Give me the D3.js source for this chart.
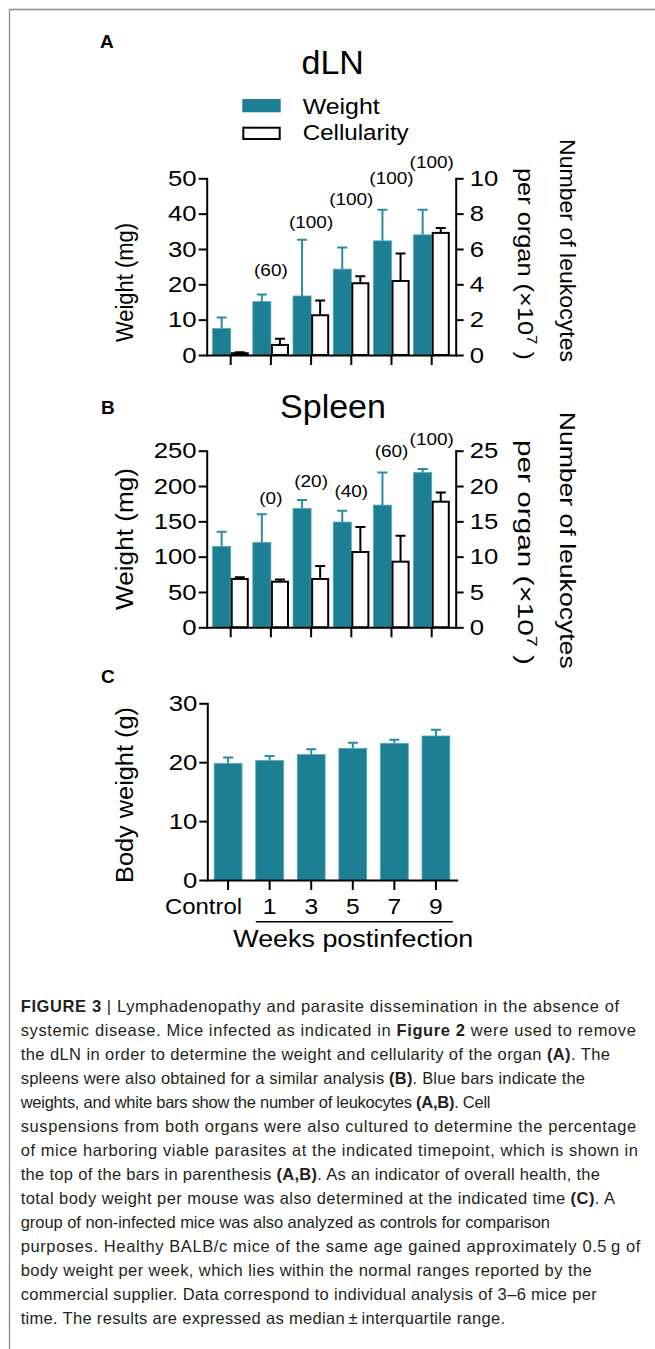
<!DOCTYPE html>
<html>
<head>
<meta charset="utf-8">
<script src="https://cdnjs.cloudflare.com/ajax/libs/d3/7.8.5/d3.min.js"></script>
<style>
body { margin: 0; background: #fff; }
svg { display: block; }
text { font-family: "Liberation Sans", Arial, Helvetica, sans-serif; white-space: pre; }
</style>
</head>
<body>
<script>
var width = 655;
var height = 1349;
var font = "'Liberation Sans', Arial, Helvetica, sans-serif";
var teal = "#1d7f93";
var tealErr = "#2a8da3";

var groups = ["Control", "1", "3", "5", "7", "9"];

// A: dLN
var dlnWeight = [7.5, 15.1, 16.7, 24.3, 32.3, 34.0];
var dlnWeightTop = [10.6, 17.1, 32.6, 30.4, 41.1, 41.1];
var dlnCells = [0.1, 0.57, 2.25, 4.06, 4.19, 6.91];
var dlnCellsTop = [0.15, 0.92, 3.09, 4.45, 5.74, 7.19];
var dlnPct = ["", "(60)", "(100)", "(100)", "(100)", "(100)"];
var dlnLeftTicks = [0, 10, 20, 30, 40, 50];
var dlnRightTicks = [0, 2, 4, 6, 8, 10];

// B: spleen
var splWeight = [114.6, 120.3, 168.4, 149, 173, 219];
var splWeightTop = [135.4, 159.9, 180.2, 165, 219, 224];
var splCells = [6.84, 6.46, 6.84, 10.66, 9.29, 17.78];
var splCellsTop = [7.08, 6.75, 8.68, 14.2, 12.97, 19.1];
var splPct = ["", "(0)", "(20)", "(40)", "(60)", "(100)"];
var splLeftTicks = [0, 50, 100, 150, 200, 250];
var splRightTicks = [0, 5, 10, 15, 20, 25];

// C: body weight
var bodyWeight = [19.8, 20.3, 21.3, 22.35, 23.2, 24.45];
var bodyWeightTop = [20.8, 21.05, 22.2, 23.3, 23.8, 25.5];
var bodyTicks = [0, 10, 20, 30];

// where the (%) labels sit, in left-axis units
var dlnPctAt = [0, 22.4, 35.9, 42.4, 48.4, 52.9];
var splPctAt = [0, 174.5, 198, 184, 240.6, 258];

var captionLines = [
  [["FIGURE 3", 1], [" | ", 0], ["Lymphadenopathy and parasite dissemination in the absence of", 0]],
  [["systemic disease. Mice infected as indicated in ", 0], ["Figure 2", 1], [" were used to remove", 0]],
  [["the dLN in order to determine the weight and cellularity of the organ ", 0], ["(A)", 1], [". The", 0]],
  [["spleens were also obtained for a similar analysis ", 0], ["(B)", 1], [". Blue bars indicate the", 0]],
  [["weights, and white bars show the number of leukocytes ", 0], ["(A,B)", 1], [". Cell", 0]],
  [["suspensions from both organs were also cultured to determine the percentage", 0]],
  [["of mice harboring viable parasites at the indicated timepoint, which is shown in", 0]],
  [["the top of the bars in parenthesis ", 0], ["(A,B)", 1], [". As an indicator of overall health, the", 0]],
  [["total body weight per mouse was also determined at the indicated time ", 0], ["(C)", 1], [". A", 0]],
  [["group of non-infected mice was also analyzed as controls for comparison", 0]],
  [["purposes. Healthy BALB/c mice of the same age gained approximately 0.5\u2009g of", 0]],
  [["body weight per week, which lies within the normal ranges reported by the", 0]],
  [["commercial supplier. Data correspond to individual analysis of 3\u20136 mice per", 0]],
  [["time. The results are expressed as median\u2009\u00b1\u2009interquartile range.", 0]]
];
var captionEnds = [636.7, 638, 610, 585, 470, 638, 638, 600, 615, 550, 646.7, 591.7, 596.7, 505];

var svg = d3.select("body")
    .append("svg")
        .attr("width", width)
        .attr("height", height)
        ;

// frame
svg.append("path")
    .attr("d", d3.line()([[9.5, height], [9.5, 9.5], [width, 9.5]]))
    .attr("fill", "none")
    .attr("stroke", "#8a8a8a")
    .attr("stroke-width", 1.3)
    ;

function styleAxis(g, sx) {
    g.attr("font-size", 22).attr("font-family", font);
    g.select(".domain").attr("stroke-width", 2).attr("stroke-linecap", "square");
    g.selectAll(".tick line").attr("stroke-width", 2);
    g.selectAll(".tick text").each(function() {
        var t = d3.select(this);
        var x = +t.attr("x") || 0;
        t.attr("x", null).attr("transform", "translate(" + x + ",0) scale(" + sx + ",1)");
    });
}

function label(x, y, str, size, opts) {
    opts = opts || {};
    var t = svg.append("text")
        .attr("transform", "translate(" + x + "," + y + ")" + (opts.rotate ? " rotate(" + opts.rotate + ")" : "") + (opts.sx ? " scale(" + opts.sx + ",1)" : ""))
        .attr("font-size", size)
        .attr("font-weight", opts.bold ? "bold" : "normal")
        .attr("text-anchor", opts.anchor || "start")
        .attr("fill", "#000")
        .text(str)
        ;
    if (opts.len) t.attr("textLength", opts.len).attr("lengthAdjust", "spacingAndGlyphs");
    return t;
}

function supLabel(x, y, len) {
    var t = svg.append("text")
        .attr("transform", "translate(" + x + "," + y + ") rotate(90)")
        .attr("font-size", 22.5)
        .attr("textLength", len)
        .attr("lengthAdjust", "spacingAndGlyphs")
        ;
    t.append("tspan").text("per organ (\u00d710");
    t.append("tspan").attr("dy", -9).attr("font-size", 15).text("7");
    t.append("tspan").attr("dy", 9).text(" )");
}

function barPanel(o) {
    var yL = d3.scaleLinear().domain([0, o.leftTicks[o.leftTicks.length - 1]]).range([o.bottom, o.top]);
    var yR = d3.scaleLinear().domain([0, o.rightTicks[o.rightTicks.length - 1]]).range([o.bottom, o.top]);
    var xg = d3.scaleBand().domain(groups).range([206.7, 455.7]).paddingInner(0.1).paddingOuter(0.147);
    var xs = d3.scaleBand().domain(["w", "c"]).range([0, xg.bandwidth()]);

    var rows = groups.map(function(g, i) {
        return { g: g, w: o.weight[i], wt: o.weightTop[i], c: o.cells[i], ct: o.cellsTop[i], pct: o.pct[i], at: o.pctAt[i] };
    });

    var bars = svg.append("g");

    bars.selectAll("rect.w")
        .data(rows)
        .enter().append("rect")
        .attr("class", "w")
        .attr("x", function(d) { return xg(d.g) + xs("w"); })
        .attr("y", function(d) { return yL(d.w); })
        .attr("width", xs.bandwidth())
        .attr("height", function(d) { return yL(0) - yL(d.w); })
        .attr("fill", teal)
        .attr("stroke", "#5aa8b8")
        .attr("stroke-width", 0.8)
        ;

    bars.selectAll("rect.c")
        .data(rows)
        .enter().append("rect")
        .attr("class", "c")
        .attr("x", function(d) { return xg(d.g) + xs("c") + 1; })
        .attr("y", function(d) { return yR(d.c); })
        .attr("width", xs.bandwidth() - 2)
        .attr("height", function(d) { return yR(0) - yR(d.c); })
        .attr("fill", "#fff")
        .attr("stroke", "#000")
        .attr("stroke-width", 2)
        ;

    // upper whiskers
    var errW = function(d) {
        var cx = xg(d.g) + xs("w") + xs.bandwidth() / 2;
        return d3.line()([[cx, yL(d.w)], [cx, yL(d.wt)]]) + d3.line()([[cx - 5, yL(d.wt)], [cx + 5, yL(d.wt)]]);
    };
    var errC = function(d) {
        var cx = xg(d.g) + xs("c") + xs.bandwidth() / 2;
        return d3.line()([[cx, yR(d.c)], [cx, yR(d.ct)]]) + d3.line()([[cx - 5, yR(d.ct)], [cx + 5, yR(d.ct)]]);
    };

    bars.selectAll("path.ew")
        .data(rows)
        .enter().append("path")
        .attr("d", errW)
        .attr("fill", "none")
        .attr("stroke", tealErr)
        .attr("stroke-width", 2)
        ;

    bars.selectAll("path.ec")
        .data(rows)
        .enter().append("path")
        .attr("d", errC)
        .attr("fill", "none")
        .attr("stroke", "#000")
        .attr("stroke-width", 2)
        ;

    bars.selectAll("text")
        .data(rows.filter(function(d) { return d.pct; }))
        .enter().append("text")
        .attr("transform", function(d) { return "translate(" + (xg(d.g) + xg.bandwidth() / 2) + "," + yL(d.at) + ") scale(1.15,1)"; })
        .attr("text-anchor", "middle")
        .attr("font-size", 16.5)
        .text(function(d) { return d.pct; })
        ;

    var gx = svg.append("g")
        .attr("transform", "translate(0," + o.bottom + ")")
        .call(d3.axisBottom(xg).tickSize(10).tickSizeOuter(0).tickFormat(""))
        ;
    styleAxis(gx, 1);

    var gl = svg.append("g")
        .attr("transform", "translate(206.7,0)")
        .call(d3.axisLeft(yL).tickValues(o.leftTicks).tickSize(8).tickPadding(2).tickSizeOuter(0))
        ;
    styleAxis(gl, 1.17);

    var gr = svg.append("g")
        .attr("transform", "translate(455.7,0)")
        .call(d3.axisRight(yR).tickValues(o.rightTicks).tickSize(8).tickPadding(6).tickSizeOuter(0))
        ;
    styleAxis(gr, 1.17);
}

// panel A
label(100, 48, "A", 19, { bold: true });
label(332.7, 74, "dLN", 34, { anchor: "middle" });

svg.append("rect")
    .attr("x", 242.3).attr("y", 99)
    .attr("width", 38.4).attr("height", 13.3)
    .attr("fill", teal)
    ;
svg.append("rect")
    .attr("x", 243.3).attr("y", 127.7)
    .attr("width", 36.4).attr("height", 11.3)
    .attr("fill", "#fff").attr("stroke", "#000").attr("stroke-width", 2)
    ;
label(302.7, 114.3, "Weight", 21.5, { len: 77 });
label(302.7, 140, "Cellularity", 21.5, { len: 106 });

barPanel({
    bottom: 355, top: 178.3,
    leftTicks: dlnLeftTicks, rightTicks: dlnRightTicks,
    weight: dlnWeight, weightTop: dlnWeightTop,
    cells: dlnCells, cellsTop: dlnCellsTop,
    pct: dlnPct, pctAt: dlnPctAt
});

label(133, 282.5, "Weight (mg)", 23, { rotate: -90, anchor: "middle", len: 119 });
label(560, 139, "Number of leukocytes", 22.5, { rotate: 90, len: 223 });
supLabel(518, 168, 192);

// panel B
label(101, 414, "B", 19, { bold: true });
label(333, 418, "Spleen", 34, { anchor: "middle" });

barPanel({
    bottom: 627.3, top: 450.7,
    leftTicks: splLeftTicks, rightTicks: splRightTicks,
    weight: splWeight, weightTop: splWeightTop,
    cells: splCells, cellsTop: splCellsTop,
    pct: splPct, pctAt: splPctAt
});

label(133, 539, "Weight (mg)", 23, { rotate: -90, anchor: "middle", len: 142 });
label(560, 411.7, "Number of leukocytes", 22.5, { rotate: 90, len: 257 });
supLabel(518, 440, 225);

// panel C
label(101, 683, "C", 19, { bold: true });

var yC = d3.scaleLinear().domain([0, 30]).range([880, 703.3]);
var xC = d3.scaleBand().domain(groups).range([207.3, 456.7]).paddingInner(0.33).paddingOuter(0.165);

var bodyRows = groups.map(function(g, i) { return { g: g, v: bodyWeight[i], t: bodyWeightTop[i] }; });

svg.append("g").selectAll("rect")
    .data(bodyRows)
    .enter().append("rect")
    .attr("x", function(d) { return xC(d.g); })
    .attr("y", function(d) { return yC(d.v); })
    .attr("width", xC.bandwidth())
    .attr("height", function(d) { return yC(0) - yC(d.v); })
    .attr("fill", teal)
    .attr("stroke", "#5aa8b8")
    .attr("stroke-width", 0.8)
    ;

svg.append("g").selectAll("path")
    .data(bodyRows)
    .enter().append("path")
    .attr("d", function(d) {
        var cx = xC(d.g) + xC.bandwidth() / 2;
        return d3.line()([[cx, yC(d.v)], [cx, yC(d.t)]]) + d3.line()([[cx - 5, yC(d.t)], [cx + 5, yC(d.t)]]);
    })
    .attr("fill", "none")
    .attr("stroke", tealErr)
    .attr("stroke-width", 2)
    ;

var gxC = svg.append("g")
    .attr("transform", "translate(0,880)")
    .call(d3.axisBottom(xC).tickSize(10).tickPadding(8).tickSizeOuter(0))
    ;
styleAxis(gxC, 1.12);
gxC.selectAll(".tick text")
    .filter(function(d) { return d === "Control"; })
    .attr("text-anchor", "end")
    .attr("transform", "translate(" + (xC.bandwidth() / 2) + ",0)")
    .attr("textLength", 77)
    .attr("lengthAdjust", "spacingAndGlyphs")
    ;

var glC = svg.append("g")
    .attr("transform", "translate(207.3,0)")
    .call(d3.axisLeft(yC).tickValues(bodyTicks).tickSize(8).tickPadding(2).tickSizeOuter(0))
    ;
styleAxis(glC, 1.17);

svg.append("line")
    .attr("x1", xC("1"))
    .attr("x2", xC("9") + xC.bandwidth() + 3)
    .attr("y1", 921.7).attr("y2", 921.7)
    .attr("stroke", "#000").attr("stroke-width", 1.5)
    ;

label(353.3, 946.7, "Weeks postinfection", 23.5, { anchor: "middle", len: 240 });
label(133, 795, "Body weight (g)", 23, { rotate: -90, anchor: "middle", len: 176 });

// caption: stretch each line toward its measured end, but keep letter spacing sane
var cap = svg.append("g").attr("fill", "#231f20");
captionLines.forEach(function(line, i) {
    var t = cap.append("text")
        .attr("x", 20.7)
        .attr("y", 1012 + i * 24)
        .attr("font-size", 16.5)
        ;
    var chars = 0;
    line.forEach(function(seg) {
        chars += seg[0].length;
        t.append("tspan")
            .attr("font-weight", seg[1] ? "bold" : "normal")
            .text(seg[0]);
    });
    var natural = t.node().getComputedTextLength();
    var extra = Math.max(-0.25 * chars, Math.min(0.6 * chars, captionEnds[i] - 20.7 - natural));
    t.attr("textLength", natural + extra).attr("lengthAdjust", "spacing");
});
</script>
</body>
</html>
